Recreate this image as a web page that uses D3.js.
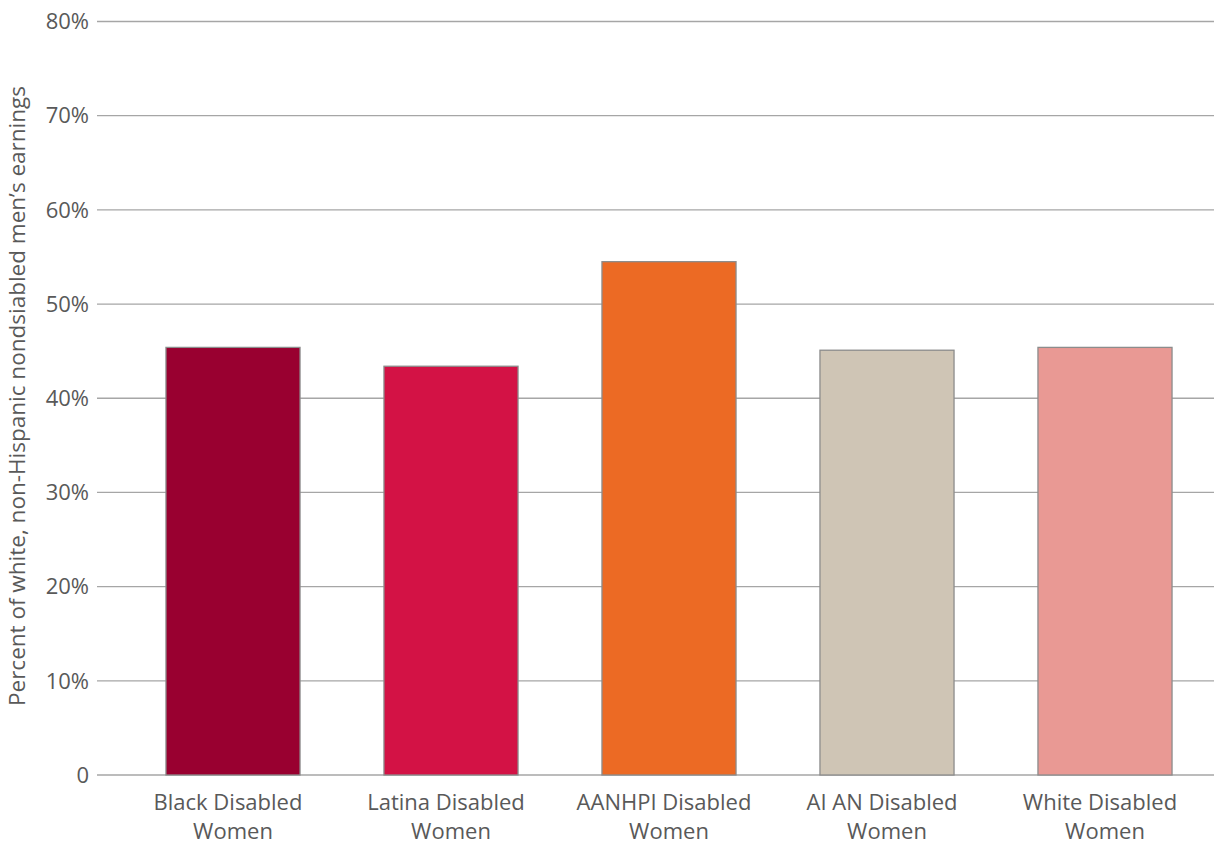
<!DOCTYPE html>
<html><head><meta charset="utf-8">
<script src="https://cdn.jsdelivr.net/npm/d3@7"></script>
<style>body{margin:0;background:#fff;}svg{display:block;font-family:"Open Sans","Noto Sans",sans-serif;}</style>
</head><body><svg id="c" width="1214" height="844"></svg>
<script>
const categories = [["Black Disabled","Women"],["Latina Disabled","Women"],["AANHPI Disabled","Women"],["AI AN Disabled","Women"],["White Disabled","Women"]];
const values = [45.4, 43.4, 54.5, 45.1, 45.4];
const colors = ["#990030","#d31245","#ec6a24","#cfc5b5","#e99994"];
const yTicks = [0,10,20,30,40,50,60,70,80];
const yTitle = "Percent of white, non-Hispanic nondsiabled men’s earnings";

const svg = d3.select("#c");
const x = d3.scaleBand().domain(d3.range(categories.length)).range([124,1214]).paddingInner(0.385).paddingOuter(0.1925);
const y = d3.scaleLinear().domain([0,80]).range([775,21.5]);
const gridX0 = 97;

svg.append("g").selectAll("line").data(yTicks).join("line")
  .attr("x1",gridX0).attr("x2",1214).attr("y1",d=>y(d)).attr("y2",d=>y(d))
  .attr("stroke","#a6a6a6").attr("stroke-width",1.3);

svg.append("g").selectAll("text").data(yTicks).join("text")
  .attr("x",89).attr("y",d=>y(d)).attr("dy","0.35em").attr("text-anchor","end")
  .attr("font-size",22).attr("fill","#595959").text(d=>d===0?"0":d+"%");

svg.append("g").selectAll("rect").data(values).join("rect")
  .attr("x",(d,i)=>x(i)).attr("width",x.bandwidth())
  .attr("y",d=>y(d)).attr("height",d=>y(0)-y(d))
  .attr("fill",(d,i)=>colors[i]).attr("stroke","#8c8c8c").attr("stroke-width",1.3);

const xl = svg.append("g").selectAll("text").data(categories).join("text")
  .attr("text-anchor","middle").attr("font-size",22).attr("fill","#595959");
xl.each(function(d,i){
  const t = d3.select(this);
  d.forEach((line,j)=>t.append("tspan").attr("x",x(i)+x.bandwidth()/2 + (j===0?-5:0)).attr("y",810+j*29).text(line));
});

svg.append("text").attr("transform","translate(25,396) rotate(-90)").attr("text-anchor","middle")
  .attr("font-size",22.5).attr("fill","#595959").text(yTitle);
</script></body></html>
